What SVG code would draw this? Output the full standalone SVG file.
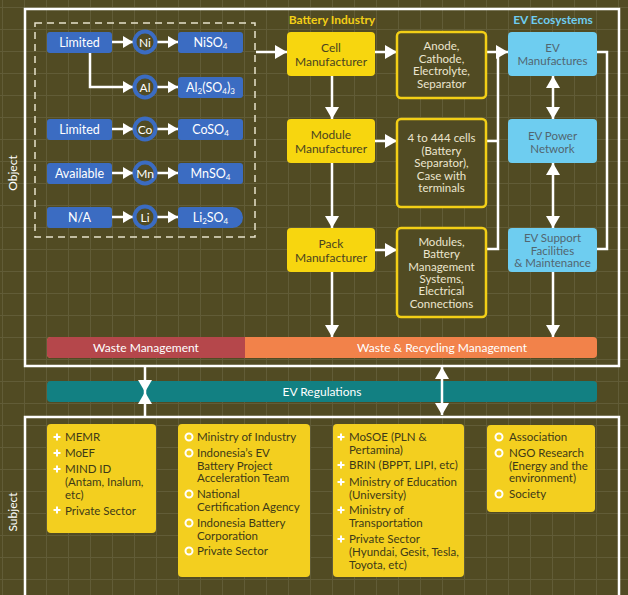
<svg xmlns="http://www.w3.org/2000/svg" width="628" height="595" viewBox="0 0 628 595">
<defs>
<pattern id="grid" width="22" height="22" patternUnits="userSpaceOnUse" x="2" y="7">
<path d="M0,0.5 H22 M0.5,0 V22" stroke="#615c37" stroke-width="1" fill="none"/>
</pattern>
<marker id="ah" viewBox="0 0 12 14" refX="12" refY="7" markerWidth="12" markerHeight="14" markerUnits="userSpaceOnUse" orient="auto-start-reverse">
<path d="M0,0 L12,7 L0,14 z" fill="#ffffff"/>
</marker>
<marker id="as" viewBox="0 0 10 12" refX="10" refY="6" markerWidth="10" markerHeight="12" markerUnits="userSpaceOnUse" orient="auto-start-reverse">
<path d="M0,0 L10,6 L0,12 z" fill="#ffffff"/>
</marker>
</defs>
<style>
text{font-family:Lato,"Liberation Sans",sans-serif;}
.frame{fill:none;stroke:#ffffff;stroke-width:2.5;}
.blue{fill:#3b6cc2;}
.bt{fill:#ffffff;font-size:12.5px;text-anchor:middle;}
.circ{fill:#514b23;stroke:#3b6cc2;stroke-width:4;}
.ct{fill:#ffffff;font-size:12px;text-anchor:middle;}
.mf{fill:#f7d60f;}
.mft{fill:#4a4420;font-size:12px;text-anchor:middle;}
.comp{fill:#514b23;stroke:#f3cf16;stroke-width:2.5;}
.compt{fill:#ece6cf;font-size:11.5px;text-anchor:middle;}
.ev{fill:#6ecdf0;}
.evt{fill:#526670;font-size:11.5px;text-anchor:middle;}
.sub{fill:#f3cf1f;}
.st{fill:#3e3a18;font-size:11.5px;}
.plus{stroke:#ffffff;stroke-width:2;}
.dot{fill:none;stroke:#ffffff;stroke-width:2;}
.ln{fill:none;stroke:#ffffff;stroke-width:2.5;}
.lbl{font-size:12px;fill:#ffffff;}
</style>
<rect x="0" y="0" width="628" height="595" fill="#514b23"/>
<rect x="0" y="0" width="628" height="595" fill="url(#grid)"/>

<g id="frames">
<rect class="frame" x="25" y="9" width="594" height="357"/>
<rect class="frame" x="25" y="417" width="594" height="200"/>
<text class="lbl" transform="translate(17,173) rotate(-90)" text-anchor="middle">Object</text>
<text class="lbl" transform="translate(17,512) rotate(-90)" text-anchor="middle">Subject</text>
<rect x="35" y="23" width="220" height="214" fill="none" stroke="#e6e2cc" stroke-width="1.5" stroke-dasharray="7,5"/>
<text x="332" y="24" font-size="12" font-weight="bold" fill="#f3cf16" text-anchor="middle">Battery Industry</text>
<text x="553" y="24" font-size="12" font-weight="bold" fill="#6ecdf0" text-anchor="middle">EV Ecosystems</text>
</g>

<g id="connectors">
<line class="ln" x1="112" y1="42" x2="133" y2="42" marker-end="url(#as)"/>
<line class="ln" x1="157" y1="42" x2="178" y2="42" marker-end="url(#as)"/>
<path class="ln" d="M90,53 V87 H133" marker-end="url(#as)"/>
<line class="ln" x1="157" y1="87" x2="178" y2="87" marker-end="url(#as)"/>
<line class="ln" x1="112" y1="129" x2="133" y2="129" marker-end="url(#as)"/>
<line class="ln" x1="157" y1="129" x2="178" y2="129" marker-end="url(#as)"/>
<line class="ln" x1="112" y1="173" x2="133" y2="173" marker-end="url(#as)"/>
<line class="ln" x1="157" y1="173" x2="178" y2="173" marker-end="url(#as)"/>
<line class="ln" x1="112" y1="217" x2="133" y2="217" marker-end="url(#as)"/>
<line class="ln" x1="157" y1="217" x2="178" y2="217" marker-end="url(#as)"/>
<line class="ln" x1="256" y1="52" x2="287" y2="52" marker-end="url(#ah)"/>
<line class="ln" x1="375" y1="52" x2="397" y2="52" marker-end="url(#ah)"/>
<line class="ln" x1="375" y1="141" x2="397" y2="141" marker-end="url(#ah)"/>
<line class="ln" x1="375" y1="250" x2="397" y2="250" marker-end="url(#ah)"/>
<line class="ln" x1="332" y1="76" x2="332" y2="119" marker-end="url(#ah)"/>
<line class="ln" x1="332" y1="163" x2="332" y2="228" marker-end="url(#ah)"/>
<line class="ln" x1="332" y1="272" x2="332" y2="337" marker-end="url(#ah)"/>
<path class="ln" d="M486,52 H508" marker-end="url(#ah)"/>
<path class="ln" d="M498,52 V249 H486 M486,141 H498"/>
<line class="ln" x1="553" y1="76" x2="553" y2="119" marker-start="url(#ah)" marker-end="url(#ah)"/>
<line class="ln" x1="553" y1="163" x2="553" y2="228" marker-start="url(#ah)" marker-end="url(#ah)"/>
<path class="ln" d="M597,52 H607 V249 H597"/>
<line class="ln" x1="553" y1="272" x2="553" y2="337" marker-end="url(#ah)"/>
</g>

<g id="n-limited1"><rect class="blue" x="47" y="32" width="65" height="21" rx="3"/><text class="bt" x="79.5" y="46.5">Limited</text></g>
<g id="n-ni"><circle class="circ" cx="145" cy="42" r="10.5"/><text class="ct" x="145" y="46.5">Ni</text></g>
<g id="n-niso4"><rect class="blue" x="178" y="32" width="65" height="21" rx="3"/><text class="bt" x="210.5" y="46.5">NiSO<tspan font-size="8" dy="2">4</tspan></text></g>
<g id="n-al"><circle class="circ" cx="145" cy="87" r="10.5"/><text class="ct" x="145" y="91.5">Al</text></g>
<g id="n-al2so43"><rect class="blue" x="178" y="77" width="65" height="21" rx="3"/><text class="bt" x="210.5" y="91.5">Al<tspan font-size="8" dy="2">2</tspan><tspan dy="-2">(SO</tspan><tspan font-size="8" dy="2">4</tspan><tspan dy="-2">)</tspan><tspan font-size="8" dy="2">3</tspan></text></g>
<g id="n-limited2"><rect class="blue" x="47" y="119" width="65" height="21" rx="3"/><text class="bt" x="79.5" y="133.5">Limited</text></g>
<g id="n-co"><circle class="circ" cx="145" cy="129" r="10.5"/><text class="ct" x="145" y="133.5">Co</text></g>
<g id="n-coso4"><rect class="blue" x="178" y="119" width="65" height="21" rx="3"/><text class="bt" x="210.5" y="133.5">CoSO<tspan font-size="8" dy="2">4</tspan></text></g>
<g id="n-available"><rect class="blue" x="47" y="163" width="65" height="21" rx="3"/><text class="bt" x="79.5" y="177.5">Available</text></g>
<g id="n-mn"><circle class="circ" cx="145" cy="173" r="10.5"/><text class="ct" x="145" y="177.5">Mn</text></g>
<g id="n-mnso4"><rect class="blue" x="178" y="163" width="65" height="21" rx="3"/><text class="bt" x="210.5" y="177.5">MnSO<tspan font-size="8" dy="2">4</tspan></text></g>
<g id="n-na"><rect class="blue" x="47" y="207" width="65" height="21" rx="3"/><text class="bt" x="79.5" y="221.5">N/A</text></g>
<g id="n-li"><circle class="circ" cx="145" cy="217" r="10.5"/><text class="ct" x="145" y="221.5">Li</text></g>
<g id="n-li2so4"><path class="blue" d="M181,207 H232.5 A10.5,10.5 0 0 1 232.5,228 H181 A3,3 0 0 1 178,225 V210 A3,3 0 0 1 181,207 z"/><text class="bt" x="210.5" y="221.5">Li<tspan font-size="8" dy="2">2</tspan><tspan dy="-2">SO</tspan><tspan font-size="8" dy="2">4</tspan></text></g>

<g id="n-cell"><rect class="mf" x="287" y="32" width="88" height="44" rx="4"/><text class="mft" x="331" y="52">Cell</text><text class="mft" x="331" y="65.5">Manufacturer</text></g>
<g id="n-module"><rect class="mf" x="287" y="119" width="88" height="44" rx="4"/><text class="mft" x="331" y="139">Module</text><text class="mft" x="331" y="152.5">Manufacturer</text></g>
<g id="n-pack"><rect class="mf" x="287" y="228" width="88" height="44" rx="4"/><text class="mft" x="331" y="248">Pack</text><text class="mft" x="331" y="261.5">Manufacturer</text></g>

<g id="n-anode"><rect class="comp" x="397" y="32" width="89" height="66" rx="4"/>
<text class="compt" x="441.5" y="50">Anode,</text><text class="compt" x="441.5" y="62.5">Cathode,</text><text class="compt" x="441.5" y="75">Electrolyte,</text><text class="compt" x="441.5" y="87.5">Separator</text></g>
<g id="n-cells"><rect class="comp" x="397" y="119" width="89" height="88" rx="4"/>
<text class="compt" x="441.5" y="142">4 to 444 cells</text><text class="compt" x="441.5" y="154.5">(Battery</text><text class="compt" x="441.5" y="167">Separator),</text><text class="compt" x="441.5" y="179.5">Case with</text><text class="compt" x="441.5" y="192">terminals</text></g>
<g id="n-modules"><rect class="comp" x="397" y="228" width="89" height="89" rx="4"/>
<text class="compt" x="441.5" y="246">Modules,</text><text class="compt" x="441.5" y="258.3">Battery</text><text class="compt" x="441.5" y="270.6">Management</text><text class="compt" x="441.5" y="282.9">Systems,</text><text class="compt" x="441.5" y="295.2">Electrical</text><text class="compt" x="441.5" y="307.5">Connections</text></g>

<g id="n-evman"><rect class="ev" x="508" y="32" width="89" height="44" rx="4"/><text class="evt" x="552.5" y="51.5">EV</text><text class="evt" x="552.5" y="64.5">Manufactures</text></g>
<g id="n-evpower"><rect class="ev" x="508" y="119" width="89" height="44" rx="4"/><text class="evt" x="552.5" y="139.5">EV Power</text><text class="evt" x="552.5" y="152.5">Network</text></g>
<g id="n-evsupport"><rect class="ev" x="508" y="228" width="89" height="44" rx="4"/><text class="evt" x="552.5" y="242">EV Support</text><text class="evt" x="552.5" y="254.5">Facilities</text><text class="evt" x="552.5" y="267">&amp; Maintenance</text></g>

<g id="n-waste"><rect x="47" y="337" width="550" height="21" rx="4" fill="#f2824a"/><path d="M51,337 H245 V358 H51 A4,4 0 0 1 47,354 V341 A4,4 0 0 1 51,337 z" fill="#b5474b"/>
<text x="146" y="352" font-size="12" fill="#ffffff" text-anchor="middle">Waste Management</text>
<text x="442" y="352" font-size="12" fill="#ffffff" text-anchor="middle">Waste &amp; Recycling Management</text></g>

<g id="n-evreg"><rect x="47" y="381" width="550" height="21" rx="4" fill="#128082"/><text x="322" y="396" font-size="12" fill="#ffffff" text-anchor="middle">EV Regulations</text></g>

<g id="reg-connectors">
<line class="ln" x1="145" y1="366" x2="145" y2="392" marker-end="url(#ah)"/>
<line class="ln" x1="145" y1="417" x2="145" y2="392" marker-end="url(#ah)"/>
<line class="ln" x1="442" y1="367" x2="442" y2="415" marker-start="url(#ah)" marker-end="url(#ah)"/>
</g>

<g id="n-sub1"><rect class="sub" x="47" y="424" width="109" height="109" rx="4"/>
<path class="plus" d="M53.5,437 H60.5 M57,433.5 V440.5"/><text class="st" x="65" y="441">MEMR</text>
<path class="plus" d="M53.5,453 H60.5 M57,449.5 V456.5"/><text class="st" x="65" y="457">MoEF</text>
<path class="plus" d="M53.5,469 H60.5 M57,465.5 V472.5"/><text class="st" x="65" y="473">MIND ID</text>
<text class="st" x="65" y="486">(Antam, Inalum,</text><text class="st" x="65" y="498.5">etc)</text>
<path class="plus" d="M53.5,510 H60.5 M57,506.5 V513.5"/><text class="st" x="65" y="515">Private Sector</text></g>

<g id="n-sub2"><rect class="sub" x="178" y="424" width="132" height="153" rx="4"/>
<circle class="dot" cx="189" cy="437" r="3.5"/><text class="st" x="197" y="441">Ministry of Industry</text>
<circle class="dot" cx="189" cy="453" r="3.5"/><text class="st" x="197" y="457">Indonesia’s EV</text>
<text class="st" x="197" y="469.5">Battery Project</text><text class="st" x="197" y="482">Acceleration Team</text>
<circle class="dot" cx="189" cy="494" r="3.5"/><text class="st" x="197" y="498">National</text>
<text class="st" x="197" y="511">Certification Agency</text>
<circle class="dot" cx="189" cy="523" r="3.5"/><text class="st" x="197" y="527">Indonesia Battery</text>
<text class="st" x="197" y="540">Corporation</text>
<circle class="dot" cx="189" cy="551" r="3.5"/><text class="st" x="197" y="555">Private Sector</text></g>

<g id="n-sub3"><rect class="sub" x="333" y="424" width="131" height="153" rx="4"/>
<path class="plus" d="M337.5,437 H344.5 M341,433.5 V440.5"/><text class="st" x="349" y="441">MoSOE (PLN &amp;</text>
<text class="st" x="349" y="454">Pertamina)</text>
<path class="plus" d="M337.5,465 H344.5 M341,461.5 V468.5"/><text class="st" x="349" y="469">BRIN (BPPT, LIPI, etc)</text>
<path class="plus" d="M337.5,482 H344.5 M341,478.5 V485.5"/><text class="st" x="349" y="486">Ministry of Education</text>
<text class="st" x="349" y="498.5">(University)</text>
<path class="plus" d="M337.5,510 H344.5 M341,506.5 V513.5"/><text class="st" x="349" y="514">Ministry of</text>
<text class="st" x="349" y="527">Transportation</text>
<path class="plus" d="M337.5,539 H344.5 M341,535.5 V542.5"/><text class="st" x="349" y="543">Private Sector</text>
<text class="st" x="349" y="556">(Hyundai, Gesit, Tesla,</text>
<text class="st" x="349" y="568.5">Toyota, etc)</text></g>

<g id="n-sub4"><rect class="sub" x="487" y="425" width="108" height="87" rx="4"/>
<circle class="dot" cx="499" cy="437" r="3.5"/><text class="st" x="509" y="441">Association</text>
<circle class="dot" cx="499" cy="453" r="3.5"/><text class="st" x="509" y="457">NGO Research</text>
<text class="st" x="509" y="469.5">(Energy and the</text><text class="st" x="509" y="482">environment)</text>
<circle class="dot" cx="499" cy="494" r="3.5"/><text class="st" x="509" y="498">Society</text></g>
</svg>
